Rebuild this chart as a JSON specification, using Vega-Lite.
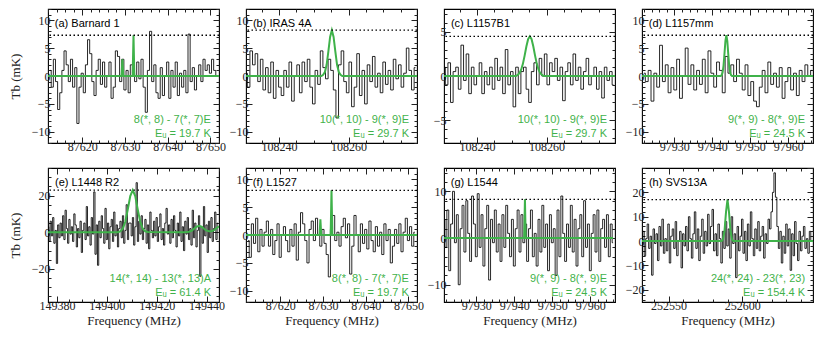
{
"$schema":"https://vega.github.io/schema/vega-lite/v6.json",
"background":"white",
"padding":{"left":8,"top":7,"right":12,"bottom":4},
"bounds":"flush",
"columns":4,
"spacing":{"row":25,"column":27},
"config":{"font":"Liberation Serif, DejaVu Serif, serif","view":{"stroke":"black","strokeWidth":1.1},
"axis":{"domain":false,"grid":false,"labelFont":"Liberation Serif, DejaVu Serif, serif","labelFontSize":12,"labelColor":"#222","tickColor":"#222","tickWidth":1,"labelPadding":4,"labelOverlap":false,"labelFlush":false,"labelBound":false,"titleFont":"Liberation Serif, DejaVu Serif, serif","titleFontSize":13,"titleFontWeight":"normal","titleColor":"#222","titlePadding":9},
"axisBottom":{"titlePadding":3}},
"datasets":{
"a":[{"f":87612.5,"t":1},{"f":87613,"t":-2},{"f":87613.5,"t":3},{"f":87614,"t":-1},{"f":87614.5,"t":-6},{"f":87615,"t":-3},{"f":87615.5,"t":1},{"f":87616,"t":4.5},{"f":87616.5,"t":2},{"f":87617,"t":-1},
{"f":87617.5,"t":3},{"f":87618,"t":-2},{"f":87618.5,"t":1.5},{"f":87619,"t":-8.5},{"f":87619.5,"t":-2},{"f":87620,"t":0.5},{"f":87620.5,"t":-3},{"f":87621,"t":2},{"f":87621.5,"t":6.5},{"f":87622,"t":4},
{"f":87622.5,"t":-1},{"f":87623,"t":-3.5},{"f":87623.5,"t":1},{"f":87624,"t":3},{"f":87624.5,"t":-1.5},{"f":87625,"t":2.5},{"f":87625.5,"t":-2},{"f":87626,"t":0},{"f":87626.5,"t":2.5},{"f":87627,"t":-4},
{"f":87627.5,"t":-2},{"f":87628,"t":4.5},{"f":87628.5,"t":3.5},{"f":87629,"t":-1},{"f":87629.5,"t":3},{"f":87630,"t":-2.5},{"f":87630.5,"t":1},{"f":87631,"t":-3},{"f":87631.5,"t":2},{"f":87632,"t":0.5},
{"f":87632.5,"t":-1},{"f":87633,"t":2.5},{"f":87633.5,"t":-0.5},{"f":87634,"t":3},{"f":87634.5,"t":-2},{"f":87635,"t":-6.5},{"f":87635.5,"t":1},{"f":87636,"t":8},{"f":87636.5,"t":-1},{"f":87637,"t":2},
{"f":87637.5,"t":-3},{"f":87638,"t":-4},{"f":87638.5,"t":1.5},{"f":87639,"t":-3.5},{"f":87639.5,"t":0},{"f":87640,"t":2.5},{"f":87640.5,"t":-4},{"f":87641,"t":1},{"f":87641.5,"t":-2},{"f":87642,"t":2.5},
{"f":87642.5,"t":-3.5},{"f":87643,"t":0.5},{"f":87643.5,"t":-2},{"f":87644,"t":1},{"f":87644.5,"t":-3},{"f":87645,"t":7.5},{"f":87645.5,"t":-1},{"f":87646,"t":1.5},{"f":87646.5,"t":-2.5},{"f":87647,"t":0},
{"f":87647.5,"t":2},{"f":87648,"t":-1},{"f":87648.5,"t":3},{"f":87649,"t":1},{"f":87649.5,"t":2},{"f":87650,"t":0.5},{"f":87650.5,"t":3},{"f":87651,"t":1},{"f":87651.5,"t":0}],
"ma":[{"f":87612,"t":0},{"f":87629.2,"t":0},{"f":87629.4,"t":3},{"f":87629.6,"t":0},{"f":87631.8,"t":0},{"f":87632,"t":7.3},{"f":87632.2,"t":0},{"f":87652,"t":0}],
"b":[{"f":108230.5,"t":0.5},{"f":108231.25,"t":-2},{"f":108232,"t":4.5},{"f":108232.75,"t":2},{"f":108233.5,"t":4},{"f":108234.25,"t":-1},{"f":108235,"t":3},{"f":108235.75,"t":-2.5},{"f":108236.5,"t":1.5},{"f":108237.25,"t":-3},
{"f":108238,"t":2.5},{"f":108238.75,"t":-4},{"f":108239.5,"t":1},{"f":108240.25,"t":-2},{"f":108241,"t":-3.5},{"f":108241.75,"t":1},{"f":108242.5,"t":-2},{"f":108243.25,"t":2.5},{"f":108244,"t":-4.5},{"f":108244.75,"t":0},
{"f":108245.5,"t":2},{"f":108246.25,"t":-3},{"f":108247,"t":2.5},{"f":108247.75,"t":-1},{"f":108248.5,"t":3},{"f":108249.25,"t":-2},{"f":108250,"t":-5},{"f":108250.75,"t":1},{"f":108251.5,"t":-1.5},{"f":108252.25,"t":4.5},
{"f":108253,"t":1.5},{"f":108253.75,"t":-0.5},{"f":108254.5,"t":3},{"f":108255.25,"t":1},{"f":108256,"t":-2.5},{"f":108256.75,"t":-7.5},{"f":108257.5,"t":2},{"f":108258.25,"t":4.5},{"f":108259,"t":-1},{"f":108259.75,"t":-3},
{"f":108260.5,"t":2.5},{"f":108261.25,"t":-5.5},{"f":108262,"t":-2},{"f":108262.75,"t":4},{"f":108263.5,"t":-3.5},{"f":108264.25,"t":1},{"f":108265,"t":-5},{"f":108265.75,"t":2},{"f":108266.5,"t":-1},{"f":108267.25,"t":3.5},
{"f":108268,"t":-2},{"f":108268.75,"t":0.5},{"f":108269.5,"t":-3},{"f":108270.25,"t":2.5},{"f":108271,"t":-1.5},{"f":108271.75,"t":1},{"f":108272.5,"t":-2.5},{"f":108273.25,"t":3},{"f":108274,"t":-0.5},{"f":108274.75,"t":2},
{"f":108275.5,"t":-2},{"f":108276.25,"t":0.5},{"f":108277,"t":5},{"f":108277.75,"t":1},{"f":108278.5,"t":-2.5},{"f":108279.25,"t":1.5}],
"mb":[{"f":108230.5,"t":0},{"f":108252.2,"t":0},{"f":108252.7,"t":0.2},{"f":108253.2,"t":0.7},{"f":108253.7,"t":2},{"f":108254.2,"t":4.4},{"f":108254.7,"t":7},{"f":108255.2,"t":8.2},{"f":108255.7,"t":7},{"f":108256.2,"t":4.4},{"f":108256.7,"t":2},{"f":108257.2,"t":0.7},{"f":108257.7,"t":0.2},{"f":108258.2,"t":0},{"f":108279.7,"t":0}],
"c":[{"f":108230.5,"t":1},{"f":108231.25,"t":-1},{"f":108232,"t":1.5},{"f":108232.75,"t":-3},{"f":108233.5,"t":0.5},{"f":108234.25,"t":1},{"f":108235,"t":-1.5},{"f":108235.75,"t":3.5},{"f":108236.5,"t":-0.5},{"f":108237.25,"t":2.5},
{"f":108238,"t":-2},{"f":108238.75,"t":1},{"f":108239.5,"t":-1},{"f":108240.25,"t":0},{"f":108241,"t":1.5},{"f":108241.75,"t":-2},{"f":108242.5,"t":0.5},{"f":108243.25,"t":-1},{"f":108244,"t":1},{"f":108244.75,"t":-1.5},
{"f":108245.5,"t":2},{"f":108246.25,"t":-0.5},{"f":108247,"t":1},{"f":108247.75,"t":-2},{"f":108248.5,"t":3},{"f":108249.25,"t":-1},{"f":108250,"t":0.5},{"f":108250.75,"t":-3.5},{"f":108251.5,"t":1},{"f":108252.25,"t":-2},
{"f":108253,"t":0.5},{"f":108253.75,"t":1},{"f":108254.5,"t":-1.5},{"f":108255.25,"t":-3},{"f":108256,"t":0.5},{"f":108256.75,"t":1.5},{"f":108257.5,"t":-1},{"f":108258.25,"t":2},{"f":108259,"t":0},{"f":108259.75,"t":2.5},
{"f":108260.5,"t":-1},{"f":108261.25,"t":1.5},{"f":108262,"t":0.5},{"f":108262.75,"t":2},{"f":108263.5,"t":-0.5},{"f":108264.25,"t":1},{"f":108265,"t":-2.8},{"f":108265.75,"t":0.5},{"f":108266.5,"t":1.5},{"f":108267.25,"t":-1},
{"f":108268,"t":2.5},{"f":108268.75,"t":-0.5},{"f":108269.5,"t":1},{"f":108270.25,"t":-1.5},{"f":108271,"t":0.5},{"f":108271.75,"t":2},{"f":108272.5,"t":-1},{"f":108273.25,"t":0},{"f":108274,"t":1},{"f":108274.75,"t":-1.5},
{"f":108275.5,"t":0.5},{"f":108276.25,"t":-2.5},{"f":108277,"t":1},{"f":108277.75,"t":-0.5},{"f":108278.5,"t":0.5},{"f":108279.25,"t":-1}],
"mc":[{"f":108230.5,"t":0},{"f":108251.2,"t":0},{"f":108251.7,"t":0.12},{"f":108252.2,"t":0.31},{"f":108252.7,"t":0.71},{"f":108253.2,"t":1.38},{"f":108253.7,"t":2.31},{"f":108254.2,"t":3.35},{"f":108254.7,"t":4.18},{"f":108255.2,"t":4.5},{"f":108255.7,"t":4.18},{"f":108256.2,"t":3.35},{"f":108256.7,"t":2.31},{"f":108257.2,"t":1.38},{"f":108257.7,"t":0.71},{"f":108258.2,"t":0.31},{"f":108258.7,"t":0.12},{"f":108259.2,"t":0},{"f":108279.7,"t":0}],
"d":[{"f":97922,"t":0.5},{"f":97922.75,"t":-1},{"f":97923.5,"t":1},{"f":97924.25,"t":-4.5},{"f":97925,"t":0.5},{"f":97925.75,"t":-2},{"f":97926.5,"t":5.5},{"f":97927.25,"t":-1},{"f":97928,"t":2},{"f":97928.75,"t":-3},
{"f":97929.5,"t":1.5},{"f":97930.25,"t":-2.5},{"f":97931,"t":3},{"f":97931.75,"t":-4},{"f":97932.5,"t":0},{"f":97933.25,"t":5},{"f":97934,"t":-1.5},{"f":97934.75,"t":2},{"f":97935.5,"t":-2.5},{"f":97936.25,"t":1},
{"f":97937,"t":-1.5},{"f":97937.75,"t":3},{"f":97938.5,"t":-3},{"f":97939.25,"t":4.5},{"f":97940,"t":0.5},{"f":97940.75,"t":-2},{"f":97941.5,"t":2.5},{"f":97942.25,"t":1},{"f":97943,"t":-3},{"f":97943.75,"t":3.5},
{"f":97944.5,"t":0.5},{"f":97945.25,"t":2},{"f":97946,"t":-1},{"f":97946.75,"t":3},{"f":97947.5,"t":0.5},{"f":97948.25,"t":-2.5},{"f":97949,"t":2},{"f":97949.75,"t":-3.5},{"f":97950.5,"t":-1},{"f":97951.25,"t":-4.5},
{"f":97952,"t":-5.5},{"f":97952.75,"t":-2},{"f":97953.5,"t":1},{"f":97954.25,"t":-3},{"f":97955,"t":2.5},{"f":97955.75,"t":-1.5},{"f":97956.5,"t":0.5},{"f":97957.25,"t":-2},{"f":97958,"t":1.5},{"f":97958.75,"t":-4},
{"f":97959.5,"t":-1},{"f":97960.25,"t":1.5},{"f":97961,"t":-2.5},{"f":97961.75,"t":0.5},{"f":97962.5,"t":-3.5},{"f":97963.25,"t":1},{"f":97964,"t":-1},{"f":97964.75,"t":2},{"f":97965.5,"t":0},{"f":97966.25,"t":1}],
"md":[{"f":97921.5,"t":0},{"f":97942.2,"t":0},{"f":97942.45,"t":0.15},{"f":97942.7,"t":0.62},{"f":97942.95,"t":1.82},{"f":97943.2,"t":3.94},{"f":97943.45,"t":6.26},{"f":97943.7,"t":7.3},{"f":97943.95,"t":6.26},{"f":97944.2,"t":3.94},{"f":97944.45,"t":1.82},{"f":97944.7,"t":0.62},{"f":97944.95,"t":0.15},{"f":97945.2,"t":0},{"f":97966.5,"t":0}],
"e":[{"f":149376.5,"t":3},{"f":149377,"t":-5},{"f":149377.5,"t":6},{"f":149378,"t":-2},{"f":149378.5,"t":8},{"f":149379,"t":-6},{"f":149379.5,"t":1},{"f":149380,"t":-17},{"f":149380.5,"t":4},{"f":149381,"t":-3},
{"f":149381.5,"t":5},{"f":149382,"t":-2},{"f":149382.5,"t":9},{"f":149383,"t":-4},{"f":149383.5,"t":12},{"f":149384,"t":2},{"f":149384.5,"t":-6},{"f":149385,"t":7},{"f":149385.5,"t":-1},{"f":149386,"t":3},
{"f":149386.5,"t":-5},{"f":149387,"t":10},{"f":149387.5,"t":4},{"f":149388,"t":-8},{"f":149388.5,"t":2},{"f":149389,"t":-3},{"f":149389.5,"t":6},{"f":149390,"t":-11},{"f":149390.5,"t":1},{"f":149391,"t":5},
{"f":149391.5,"t":-4},{"f":149392,"t":14},{"f":149392.5,"t":-2},{"f":149393,"t":3},{"f":149393.5,"t":-7},{"f":149394,"t":8},{"f":149394.5,"t":-1},{"f":149395,"t":22},{"f":149395.5,"t":-12},{"f":149396,"t":4},
{"f":149396.5,"t":-18},{"f":149397,"t":6},{"f":149397.5,"t":-3},{"f":149398,"t":9},{"f":149398.5,"t":2},{"f":149399,"t":-6},{"f":149399.5,"t":13},{"f":149400,"t":-4},{"f":149400.5,"t":5},{"f":149401,"t":-9},
{"f":149401.5,"t":3},{"f":149402,"t":7},{"f":149402.5,"t":-5},{"f":149403,"t":11},{"f":149403.5,"t":-2},{"f":149404,"t":4},{"f":149404.5,"t":-8},{"f":149405,"t":2},{"f":149405.5,"t":6},{"f":149406,"t":-3},
{"f":149406.5,"t":9},{"f":149407,"t":-6},{"f":149407.5,"t":1},{"f":149408,"t":15},{"f":149408.5,"t":-4},{"f":149409,"t":5},{"f":149409.5,"t":5},{"f":149410,"t":-2},{"f":149410.5,"t":8},{"f":149411,"t":-7},
{"f":149411.5,"t":3},{"f":149412,"t":27},{"f":149412.5,"t":-5},{"f":149413,"t":6},{"f":149413.5,"t":-1},{"f":149414,"t":9},{"f":149414.5,"t":-4},{"f":149415,"t":2},{"f":149415.5,"t":7},{"f":149416,"t":-6},
{"f":149416.5,"t":4},{"f":149417,"t":-9},{"f":149417.5,"t":11},{"f":149418,"t":1},{"f":149418.5,"t":-3},{"f":149419,"t":6},{"f":149419.5,"t":-2},{"f":149420,"t":8},{"f":149420.5,"t":-5},{"f":149421,"t":3},
{"f":149421.5,"t":10},{"f":149422,"t":-4},{"f":149422.5,"t":2},{"f":149423,"t":-7},{"f":149423.5,"t":5},{"f":149424,"t":13},{"f":149424.5,"t":-1},{"f":149425,"t":4},{"f":149425.5,"t":-6},{"f":149426,"t":7},
{"f":149426.5,"t":-3},{"f":149427,"t":9},{"f":149427.5,"t":1},{"f":149428,"t":-8},{"f":149428.5,"t":5},{"f":149429,"t":-2},{"f":149429.5,"t":11},{"f":149430,"t":-5},{"f":149430.5,"t":3},{"f":149431,"t":-10},
{"f":149431.5,"t":6},{"f":149432,"t":-1},{"f":149432.5,"t":8},{"f":149433,"t":-4},{"f":149433.5,"t":2},{"f":149434,"t":-7},{"f":149434.5,"t":12},{"f":149435,"t":-3},{"f":149435.5,"t":5},{"f":149436,"t":-8},
{"f":149436.5,"t":1},{"f":149437,"t":9},{"f":149437.5,"t":-24},{"f":149438,"t":3},{"f":149438.5,"t":-6},{"f":149439,"t":14},{"f":149439.5,"t":-2},{"f":149440,"t":4},{"f":149440.5,"t":-11},{"f":149441,"t":6},
{"f":149441.5,"t":-3},{"f":149442,"t":8},{"f":149442.5,"t":-5},{"f":149443,"t":2},{"f":149443.5,"t":11},{"f":149444,"t":-4},{"f":149444.5,"t":5}],
"me":[{"f":149376.4,"t":0},{"f":149404.4,"t":0},{"f":149405.4,"t":0.5},{"f":149406.4,"t":1.95},{"f":149407.4,"t":5.7},{"f":149408.4,"t":12.4},{"f":149409.4,"t":19.7},{"f":149410.4,"t":23},{"f":149411.4,"t":19.7},{"f":149412.4,"t":12.4},{"f":149413.4,"t":5.7},{"f":149414.4,"t":1.95},{"f":149415.4,"t":0.5},{"f":149416.4,"t":0.1},{"f":149431,"t":0},{"f":149432,"t":0.1},{"f":149433,"t":0.3},{"f":149434,"t":0.8},{"f":149435,"t":1.9},{"f":149436,"t":3},{"f":149437,"t":3.5},{"f":149438,"t":3},{"f":149439,"t":1.9},{"f":149440,"t":0.9},{"f":149441,"t":0.5},{"f":149442,"t":0.6},{"f":149443,"t":1.1},{"f":149444,"t":2.2},{"f":149445,"t":3.3}],
"f":[{"f":87612.5,"t":-1},{"f":87613,"t":-4},{"f":87613.5,"t":2},{"f":87614,"t":-1.5},{"f":87614.5,"t":3},{"f":87615,"t":-3},{"f":87615.5,"t":1},{"f":87616,"t":-2},{"f":87616.5,"t":0.5},{"f":87617,"t":2.5},
{"f":87617.5,"t":-2},{"f":87618,"t":1},{"f":87618.5,"t":-3.5},{"f":87619,"t":-1},{"f":87619.5,"t":2},{"f":87620,"t":-4},{"f":87620.5,"t":0},{"f":87621,"t":1.5},{"f":87621.5,"t":-1},{"f":87622,"t":-3},
{"f":87622.5,"t":1},{"f":87623,"t":-2},{"f":87623.5,"t":2},{"f":87624,"t":-4.5},{"f":87624.5,"t":0.5},{"f":87625,"t":4},{"f":87625.5,"t":2},{"f":87626,"t":-1},{"f":87626.5,"t":-5},{"f":87627,"t":1},
{"f":87627.5,"t":2.5},{"f":87628,"t":-1},{"f":87628.5,"t":3},{"f":87629,"t":0},{"f":87629.5,"t":-2},{"f":87630,"t":1},{"f":87630.5,"t":-1.5},{"f":87631,"t":-3.5},{"f":87631.5,"t":-7.5},{"f":87632,"t":1},
{"f":87632.5,"t":3.5},{"f":87633,"t":-1},{"f":87633.5,"t":0.5},{"f":87634,"t":-2},{"f":87634.5,"t":1.5},{"f":87635,"t":3},{"f":87635.5,"t":-0.5},{"f":87636,"t":2},{"f":87636.5,"t":-7},{"f":87637,"t":-2},
{"f":87637.5,"t":3.5},{"f":87638,"t":0},{"f":87638.5,"t":-3},{"f":87639,"t":2},{"f":87639.5,"t":-1.5},{"f":87640,"t":1},{"f":87640.5,"t":-2.5},{"f":87641,"t":2.5},{"f":87641.5,"t":-1},{"f":87642,"t":-3},
{"f":87642.5,"t":1.5},{"f":87643,"t":-2},{"f":87643.5,"t":0.5},{"f":87644,"t":-3.5},{"f":87644.5,"t":2},{"f":87645,"t":-1},{"f":87645.5,"t":1},{"f":87646,"t":-5},{"f":87646.5,"t":-2},{"f":87647,"t":1},
{"f":87647.5,"t":-1.5},{"f":87648,"t":2},{"f":87648.5,"t":-3},{"f":87649,"t":0.5},{"f":87649.5,"t":3},{"f":87650,"t":-1},{"f":87650.5,"t":1.5},{"f":87651,"t":-2},{"f":87651.5,"t":0.5}],
"mf":[{"f":87612,"t":0},{"f":87629.2,"t":0},{"f":87629.4,"t":2.8},{"f":87629.6,"t":0},{"f":87631.8,"t":0},{"f":87632,"t":8},{"f":87632.2,"t":0},{"f":87652,"t":0}],
"g":[{"f":97921.5,"t":4},{"f":97922,"t":-2},{"f":97922.5,"t":6},{"f":97923,"t":-7},{"f":97923.5,"t":3},{"f":97924,"t":10},{"f":97924.5,"t":-1},{"f":97925,"t":5},{"f":97925.5,"t":-10},{"f":97926,"t":2},
{"f":97926.5,"t":7},{"f":97927,"t":-3},{"f":97927.5,"t":8},{"f":97928,"t":1},{"f":97928.5,"t":-5},{"f":97929,"t":9},{"f":97929.5,"t":3},{"f":97930,"t":-4},{"f":97930.5,"t":9.5},{"f":97931,"t":-2},
{"f":97931.5,"t":5},{"f":97932,"t":-6},{"f":97932.5,"t":2},{"f":97933,"t":7},{"f":97933.5,"t":-9},{"f":97934,"t":4},{"f":97934.5,"t":-1},{"f":97935,"t":6},{"f":97935.5,"t":-3},{"f":97936,"t":3},
{"f":97936.5,"t":-5},{"f":97937,"t":5},{"f":97937.5,"t":-2},{"f":97938,"t":7},{"f":97938.5,"t":1},{"f":97939,"t":-4},{"f":97939.5,"t":4},{"f":97940,"t":-6},{"f":97940.5,"t":2},{"f":97941,"t":6},
{"f":97941.5,"t":-3},{"f":97942,"t":5},{"f":97942.5,"t":-1},{"f":97943,"t":3},{"f":97943.5,"t":-5},{"f":97944,"t":2},{"f":97944.5,"t":6},{"f":97945,"t":-4},{"f":97945.5,"t":1},{"f":97946,"t":-6},
{"f":97946.5,"t":4},{"f":97947,"t":-3},{"f":97947.5,"t":7},{"f":97948,"t":-2},{"f":97948.5,"t":3},{"f":97949,"t":-7},{"f":97949.5,"t":5},{"f":97950,"t":-1},{"f":97950.5,"t":2},{"f":97951,"t":-8},
{"f":97951.5,"t":6},{"f":97952,"t":-4},{"f":97952.5,"t":9},{"f":97953,"t":1},{"f":97953.5,"t":-5},{"f":97954,"t":3},{"f":97954.5,"t":-2},{"f":97955,"t":7},{"f":97955.5,"t":-3},{"f":97956,"t":4},
{"f":97956.5,"t":-6},{"f":97957,"t":2},{"f":97957.5,"t":5},{"f":97958,"t":-4},{"f":97958.5,"t":8},{"f":97959,"t":-2},{"f":97959.5,"t":3},{"f":97960,"t":-7},{"f":97960.5,"t":1},{"f":97961,"t":5},
{"f":97961.5,"t":-3},{"f":97962,"t":6},{"f":97962.5,"t":-5},{"f":97963,"t":2},{"f":97963.5,"t":4},{"f":97964,"t":-2},{"f":97964.5,"t":5},{"f":97965,"t":-4},{"f":97965.5,"t":3},{"f":97966,"t":-1}],
"mg":[{"f":97921.5,"t":0},{"f":97942.6,"t":0},{"f":97942.8,"t":8.3},{"f":97943,"t":0},{"f":97966,"t":0}],
"h":[{"f":252532,"t":-2},{"f":252533,"t":4},{"f":252534,"t":-6},{"f":252535,"t":1},{"f":252536,"t":7},{"f":252537,"t":-3},{"f":252538,"t":2},{"f":252539,"t":-14},{"f":252540,"t":5},{"f":252541,"t":-1},
{"f":252542,"t":3},{"f":252543,"t":-8},{"f":252544,"t":6},{"f":252545,"t":-2},{"f":252546,"t":9},{"f":252547,"t":-5},{"f":252548,"t":1},{"f":252549,"t":-4},{"f":252550,"t":7},{"f":252551,"t":-9},
{"f":252552,"t":2},{"f":252553,"t":5},{"f":252554,"t":-3},{"f":252555,"t":8},{"f":252556,"t":-6},{"f":252557,"t":0},{"f":252558,"t":4},{"f":252559,"t":-11},{"f":252560,"t":3},{"f":252561,"t":-2},
{"f":252562,"t":6},{"f":252563,"t":-4},{"f":252564,"t":10},{"f":252565,"t":1},{"f":252566,"t":-7},{"f":252567,"t":3},{"f":252568,"t":12},{"f":252569,"t":-3},{"f":252570,"t":5},{"f":252571,"t":-8},
{"f":252572,"t":2},{"f":252573,"t":9},{"f":252574,"t":-5},{"f":252575,"t":4},{"f":252576,"t":-2},{"f":252577,"t":11},{"f":252578,"t":-1},{"f":252579,"t":6},{"f":252580,"t":13},{"f":252581,"t":-4},
{"f":252582,"t":3},{"f":252583,"t":-6},{"f":252584,"t":7},{"f":252585,"t":1},{"f":252586,"t":-9},{"f":252587,"t":4},{"f":252588,"t":-3},{"f":252589,"t":8},{"f":252590,"t":-2},{"f":252591,"t":5},
{"f":252592,"t":-7},{"f":252593,"t":10},{"f":252594,"t":-1},{"f":252595,"t":3},{"f":252596,"t":-15},{"f":252597,"t":6},{"f":252598,"t":-4},{"f":252599,"t":2},{"f":252600,"t":9},{"f":252601,"t":-5},
{"f":252602,"t":4},{"f":252603,"t":-8},{"f":252604,"t":7},{"f":252605,"t":-2},{"f":252606,"t":12},{"f":252607,"t":1},{"f":252608,"t":-6},{"f":252609,"t":5},{"f":252610,"t":-3},{"f":252611,"t":8},
{"f":252612,"t":-4},{"f":252613,"t":2},{"f":252614,"t":6},{"f":252615,"t":-7},{"f":252616,"t":3},{"f":252617,"t":-1},{"f":252618,"t":9},{"f":252619,"t":5},{"f":252620,"t":12},{"f":252621,"t":20},
{"f":252622,"t":28},{"f":252623,"t":18},{"f":252624,"t":6},{"f":252625,"t":-3},{"f":252626,"t":4},{"f":252627,"t":-9},{"f":252628,"t":2},{"f":252629,"t":-5},{"f":252630,"t":7},{"f":252631,"t":-2},
{"f":252632,"t":5},{"f":252633,"t":-12},{"f":252634,"t":3},{"f":252635,"t":-6},{"f":252636,"t":8},{"f":252637,"t":-1},{"f":252638,"t":-8},{"f":252639,"t":4},{"f":252640,"t":-4},{"f":252641,"t":2},
{"f":252642,"t":6},{"f":252643,"t":-3},{"f":252644,"t":1},{"f":252645,"t":-5},{"f":252646,"t":4},{"f":252647,"t":0}],
"mh":[{"f":252532,"t":0},{"f":252586,"t":0},{"f":252587,"t":0.75},{"f":252588,"t":4.3},{"f":252589,"t":12},{"f":252590,"t":17},{"f":252591,"t":12},{"f":252592,"t":4.3},{"f":252593,"t":0.75},{"f":252594,"t":0},{"f":252648,"t":0}]
},
"concat":[
{"width":171,"height":134,"resolve":{"axis":{"x":"independent","y":"independent"}},
"layer":[
{"data":{"name":"a"},"mark":{"type":"line","interpolate":"step","color":"#000","strokeWidth":0.85,"clip":true},
"encoding":{"x":{"field":"f","type":"quantitative","scale":{"domain":[87612,87652],"nice":false,"zero":false},"axis":{"orient":"bottom","title":null,"format":"d","values":[87620,87630,87640,87650],"tickSize":-6}},
"y":{"field":"t","type":"quantitative","scale":{"domain":[-12,12],"nice":false,"zero":false},"axis":{"orient":"left","title":"Tb (mK)","format":"d","values":[-10,-5,0,5,10],"tickSize":-6}}}},
{"data":{"name":"ma"},"mark":{"type":"line","color":"#3fb24a","strokeWidth":2,"clip":true},
"encoding":{"x":{"field":"f","type":"quantitative","axis":{"orient":"top","title":null,"labels":false,"values":[87612,87614,87616,87618,87620,87622,87624,87626,87628,87630,87632,87634,87636,87638,87640,87642,87644,87646,87648,87650,87652],"tickSize":{"condition":{"test":"datum.value % 10 === 0","value":-6},"value":-3}}},
"y":{"field":"t","type":"quantitative","axis":{"orient":"right","title":null,"labels":false,"values":[-12,-11,-10,-9,-8,-7,-6,-5,-4,-3,-2,-1,0,1,2,3,4,5,6,7,8,9,10,11,12],"tickSize":{"condition":{"test":"datum.value % 5 === 0","value":-6},"value":-3}}}}},
{"data":{"name":"ma"},"mark":{"type":"point","opacity":0},
"encoding":{"x":{"field":"f","type":"quantitative","axis":{"orient":"bottom","title":null,"labels":false,"values":[87612,87614,87616,87618,87620,87622,87624,87626,87628,87630,87632,87634,87636,87638,87640,87642,87644,87646,87648,87650,87652],"tickSize":-3}},
"y":{"field":"t","type":"quantitative","axis":{"orient":"left","title":null,"labels":false,"values":[-12,-11,-10,-9,-8,-7,-6,-5,-4,-3,-2,-1,0,1,2,3,4,5,6,7,8,9,10,11,12],"tickSize":-3}}}},
{"data":{"values":[{}]},"mark":{"type":"rule","color":"black","strokeWidth":1.3,"strokeDash":[1.5,2.5]},"encoding":{"y":{"datum":7.3,"type":"quantitative","axis":null}}},
{"data":{"values":[{}]},"mark":{"type":"text","align":"left","baseline":"middle","font":"Liberation Sans","fontSize":11,"color":"black"},"encoding":{"x":{"datum":87613.6,"type":"quantitative","axis":null},"y":{"datum":9.3,"type":"quantitative","axis":null},"text":{"value":"(a)  Barnard 1"}}},
{"data":{"values":[{}]},"mark":{"type":"text","align":"right","baseline":"alphabetic","font":"Liberation Sans","fontSize":11,"lineHeight":14,"color":"#3fb24a"},"encoding":{"x":{"datum":87650.1,"type":"quantitative","axis":null},"y":{"datum":-8.42,"type":"quantitative","axis":null},"text":{"value":["8(*, 8) - 7(*, 7)E","Eᵤ = 19.7 K"]}}}
]},
{"width":171,"height":134,"resolve":{"axis":{"x":"independent","y":"independent"}},
"layer":[
{"data":{"name":"b"},"mark":{"type":"line","interpolate":"step","color":"#000","strokeWidth":0.85,"clip":true},
"encoding":{"x":{"field":"f","type":"quantitative","scale":{"domain":[108230.5,108279.7],"nice":false,"zero":false},"axis":{"orient":"bottom","title":null,"format":"d","values":[108240,108260],"tickSize":-6}},
"y":{"field":"t","type":"quantitative","scale":{"domain":[-12,12],"nice":false,"zero":false},"axis":{"orient":"left","title":null,"format":"d","values":[-10,-5,0,5,10],"tickSize":-6}}}},
{"data":{"name":"mb"},"mark":{"type":"line","color":"#3fb24a","strokeWidth":2,"clip":true},
"encoding":{"x":{"field":"f","type":"quantitative","axis":{"orient":"top","title":null,"labels":false,"values":[108235,108240,108245,108250,108255,108260,108265,108270,108275],"tickSize":{"condition":{"test":"datum.value % 20 === 0","value":-6},"value":-3}}},
"y":{"field":"t","type":"quantitative","axis":{"orient":"right","title":null,"labels":false,"values":[-12,-11,-10,-9,-8,-7,-6,-5,-4,-3,-2,-1,0,1,2,3,4,5,6,7,8,9,10,11,12],"tickSize":{"condition":{"test":"datum.value % 5 === 0","value":-6},"value":-3}}}}},
{"data":{"name":"mb"},"mark":{"type":"point","opacity":0},
"encoding":{"x":{"field":"f","type":"quantitative","axis":{"orient":"bottom","title":null,"labels":false,"values":[108235,108240,108245,108250,108255,108260,108265,108270,108275],"tickSize":-3}},
"y":{"field":"t","type":"quantitative","axis":{"orient":"left","title":null,"labels":false,"values":[-12,-11,-10,-9,-8,-7,-6,-5,-4,-3,-2,-1,0,1,2,3,4,5,6,7,8,9,10,11,12],"tickSize":-3}}}},
{"data":{"values":[{}]},"mark":{"type":"rule","color":"black","strokeWidth":1.3,"strokeDash":[1.5,2.5]},"encoding":{"y":{"datum":8.2,"type":"quantitative","axis":null}}},
{"data":{"values":[{}]},"mark":{"type":"text","align":"left","baseline":"middle","font":"Liberation Sans","fontSize":11,"color":"black"},"encoding":{"x":{"datum":108232.5,"type":"quantitative","axis":null},"y":{"datum":9.3,"type":"quantitative","axis":null},"text":{"value":"(b)  IRAS 4A"}}},
{"data":{"values":[{}]},"mark":{"type":"text","align":"right","baseline":"alphabetic","font":"Liberation Sans","fontSize":11,"lineHeight":14,"color":"#3fb24a"},"encoding":{"x":{"datum":108277.4,"type":"quantitative","axis":null},"y":{"datum":-8.42,"type":"quantitative","axis":null},"text":{"value":["10(*, 10) - 9(*, 9)E","Eᵤ = 29.7 K"]}}}
]},
{"width":171,"height":134,"resolve":{"axis":{"x":"independent","y":"independent"}},
"layer":[
{"data":{"name":"c"},"mark":{"type":"line","interpolate":"step","color":"#000","strokeWidth":0.85,"clip":true},
"encoding":{"x":{"field":"f","type":"quantitative","scale":{"domain":[108230.5,108279.7],"nice":false,"zero":false},"axis":{"orient":"bottom","title":null,"format":"d","values":[108240,108260],"tickSize":-6}},
"y":{"field":"t","type":"quantitative","scale":{"domain":[-7.6,7.6],"nice":false,"zero":false},"axis":{"orient":"left","title":null,"format":"d","values":[-5,0,5],"tickSize":-6}}}},
{"data":{"name":"mc"},"mark":{"type":"line","color":"#3fb24a","strokeWidth":2,"clip":true},
"encoding":{"x":{"field":"f","type":"quantitative","axis":{"orient":"top","title":null,"labels":false,"values":[108235,108240,108245,108250,108255,108260,108265,108270,108275],"tickSize":{"condition":{"test":"datum.value % 20 === 0","value":-6},"value":-3}}},
"y":{"field":"t","type":"quantitative","axis":{"orient":"right","title":null,"labels":false,"values":[-7,-6,-5,-4,-3,-2,-1,0,1,2,3,4,5,6,7],"tickSize":{"condition":{"test":"datum.value % 5 === 0","value":-6},"value":-3}}}}},
{"data":{"name":"mc"},"mark":{"type":"point","opacity":0},
"encoding":{"x":{"field":"f","type":"quantitative","axis":{"orient":"bottom","title":null,"labels":false,"values":[108235,108240,108245,108250,108255,108260,108265,108270,108275],"tickSize":-3}},
"y":{"field":"t","type":"quantitative","axis":{"orient":"left","title":null,"labels":false,"values":[-7,-6,-5,-4,-3,-2,-1,0,1,2,3,4,5,6,7],"tickSize":-3}}}},
{"data":{"values":[{}]},"mark":{"type":"rule","color":"black","strokeWidth":1.3,"strokeDash":[1.5,2.5]},"encoding":{"y":{"datum":4.5,"type":"quantitative","axis":null}}},
{"data":{"values":[{}]},"mark":{"type":"text","align":"left","baseline":"middle","font":"Liberation Sans","fontSize":11,"color":"black"},"encoding":{"x":{"datum":108232.5,"type":"quantitative","axis":null},"y":{"datum":5.9,"type":"quantitative","axis":null},"text":{"value":"(c)  L1157B1"}}},
{"data":{"values":[{}]},"mark":{"type":"text","align":"right","baseline":"alphabetic","font":"Liberation Sans","fontSize":11,"lineHeight":14,"color":"#3fb24a"},"encoding":{"x":{"datum":108277.4,"type":"quantitative","axis":null},"y":{"datum":-5.33,"type":"quantitative","axis":null},"text":{"value":["10(*, 10) - 9(*, 9)E","Eᵤ = 29.7 K"]}}}
]},
{"width":171,"height":134,"resolve":{"axis":{"x":"independent","y":"independent"}},
"layer":[
{"data":{"name":"d"},"mark":{"type":"line","interpolate":"step","color":"#000","strokeWidth":0.85,"clip":true},
"encoding":{"x":{"field":"f","type":"quantitative","scale":{"domain":[97921.5,97966.5],"nice":false,"zero":false},"axis":{"orient":"bottom","title":null,"format":"d","values":[97930,97940,97950,97960],"tickSize":-6}},
"y":{"field":"t","type":"quantitative","scale":{"domain":[-12,12],"nice":false,"zero":false},"axis":{"orient":"left","title":null,"format":"d","values":[-10,-5,0,5,10],"tickSize":-6}}}},
{"data":{"name":"md"},"mark":{"type":"line","color":"#3fb24a","strokeWidth":2,"clip":true},
"encoding":{"x":{"field":"f","type":"quantitative","axis":{"orient":"top","title":null,"labels":false,"values":[97922,97924,97926,97928,97930,97932,97934,97936,97938,97940,97942,97944,97946,97948,97950,97952,97954,97956,97958,97960,97962,97964,97966],"tickSize":{"condition":{"test":"datum.value % 10 === 0","value":-6},"value":-3}}},
"y":{"field":"t","type":"quantitative","axis":{"orient":"right","title":null,"labels":false,"values":[-12,-11,-10,-9,-8,-7,-6,-5,-4,-3,-2,-1,0,1,2,3,4,5,6,7,8,9,10,11,12],"tickSize":{"condition":{"test":"datum.value % 5 === 0","value":-6},"value":-3}}}}},
{"data":{"name":"md"},"mark":{"type":"point","opacity":0},
"encoding":{"x":{"field":"f","type":"quantitative","axis":{"orient":"bottom","title":null,"labels":false,"values":[97922,97924,97926,97928,97930,97932,97934,97936,97938,97940,97942,97944,97946,97948,97950,97952,97954,97956,97958,97960,97962,97964,97966],"tickSize":-3}},
"y":{"field":"t","type":"quantitative","axis":{"orient":"left","title":null,"labels":false,"values":[-12,-11,-10,-9,-8,-7,-6,-5,-4,-3,-2,-1,0,1,2,3,4,5,6,7,8,9,10,11,12],"tickSize":-3}}}},
{"data":{"values":[{}]},"mark":{"type":"rule","color":"black","strokeWidth":1.3,"strokeDash":[1.5,2.5]},"encoding":{"y":{"datum":7.3,"type":"quantitative","axis":null}}},
{"data":{"values":[{}]},"mark":{"type":"text","align":"left","baseline":"middle","font":"Liberation Sans","fontSize":11,"color":"black"},"encoding":{"x":{"datum":97923.3,"type":"quantitative","axis":null},"y":{"datum":9.3,"type":"quantitative","axis":null},"text":{"value":"(d)  L1157mm"}}},
{"data":{"values":[{}]},"mark":{"type":"text","align":"right","baseline":"alphabetic","font":"Liberation Sans","fontSize":11,"lineHeight":14,"color":"#3fb24a"},"encoding":{"x":{"datum":97964.4,"type":"quantitative","axis":null},"y":{"datum":-8.42,"type":"quantitative","axis":null},"text":{"value":["9(*, 9) - 8(*, 9)E","Eᵤ = 24.5 K"]}}}
]},
{"width":171,"height":134,"resolve":{"axis":{"x":"independent","y":"independent"}},
"layer":[
{"data":{"name":"e"},"mark":{"type":"line","interpolate":"step","color":"#000","strokeWidth":0.85,"clip":true},
"encoding":{"x":{"field":"f","type":"quantitative","scale":{"domain":[149376.4,149445],"nice":false,"zero":false},"axis":{"orient":"bottom","title":"Frequency (MHz)","format":"d","values":[149380,149400,149420,149440],"tickSize":-6}},
"y":{"field":"t","type":"quantitative","scale":{"domain":[-38,35],"nice":false,"zero":false},"axis":{"orient":"left","title":"Tb (mK)","format":"d","values":[-20,0,20],"tickSize":-6}}}},
{"data":{"name":"me"},"mark":{"type":"line","color":"#3fb24a","strokeWidth":2,"clip":true},
"encoding":{"x":{"field":"f","type":"quantitative","axis":{"orient":"top","title":null,"labels":false,"values":[149380,149385,149390,149395,149400,149405,149410,149415,149420,149425,149430,149435,149440,149445],"tickSize":{"condition":{"test":"datum.value % 20 === 0","value":-6},"value":-3}}},
"y":{"field":"t","type":"quantitative","axis":{"orient":"right","title":null,"labels":false,"values":[-35,-30,-25,-20,-15,-10,-5,0,5,10,15,20,25,30,35],"tickSize":{"condition":{"test":"datum.value % 20 === 0","value":-6},"value":-3}}}}},
{"data":{"name":"me"},"mark":{"type":"point","opacity":0},
"encoding":{"x":{"field":"f","type":"quantitative","axis":{"orient":"bottom","title":null,"labels":false,"values":[149380,149385,149390,149395,149400,149405,149410,149415,149420,149425,149430,149435,149440,149445],"tickSize":-3}},
"y":{"field":"t","type":"quantitative","axis":{"orient":"left","title":null,"labels":false,"values":[-35,-30,-25,-20,-15,-10,-5,0,5,10,15,20,25,30,35],"tickSize":-3}}}},
{"data":{"values":[{}]},"mark":{"type":"rule","color":"black","strokeWidth":1.3,"strokeDash":[1.5,2.5]},"encoding":{"y":{"datum":23,"type":"quantitative","axis":null}}},
{"data":{"values":[{}]},"mark":{"type":"text","align":"left","baseline":"middle","font":"Liberation Sans","fontSize":11,"color":"black"},"encoding":{"x":{"datum":149379.2,"type":"quantitative","axis":null},"y":{"datum":26.8,"type":"quantitative","axis":null},"text":{"value":"(e)  L1448 R2"}}},
{"data":{"values":[{}]},"mark":{"type":"text","align":"right","baseline":"alphabetic","font":"Liberation Sans","fontSize":11,"lineHeight":14,"color":"#3fb24a"},"encoding":{"x":{"datum":149441.8,"type":"quantitative","axis":null},"y":{"datum":-27.1,"type":"quantitative","axis":null},"text":{"value":["14(*, 14) - 13(*, 13)A","Eᵤ = 61.4 K"]}}}
]},
{"width":171,"height":134,"resolve":{"axis":{"x":"independent","y":"independent"}},
"layer":[
{"data":{"name":"f"},"mark":{"type":"line","interpolate":"step","color":"#000","strokeWidth":0.85,"clip":true},
"encoding":{"x":{"field":"f","type":"quantitative","scale":{"domain":[87612,87652],"nice":false,"zero":false},"axis":{"orient":"bottom","title":"Frequency (MHz)","format":"d","values":[87620,87630,87640,87650],"tickSize":-6}},
"y":{"field":"t","type":"quantitative","scale":{"domain":[-12,12],"nice":false,"zero":false},"axis":{"orient":"left","title":null,"format":"d","values":[-10,-5,0,5,10],"tickSize":-6}}}},
{"data":{"name":"mf"},"mark":{"type":"line","color":"#3fb24a","strokeWidth":2,"clip":true},
"encoding":{"x":{"field":"f","type":"quantitative","axis":{"orient":"top","title":null,"labels":false,"values":[87612,87614,87616,87618,87620,87622,87624,87626,87628,87630,87632,87634,87636,87638,87640,87642,87644,87646,87648,87650,87652],"tickSize":{"condition":{"test":"datum.value % 10 === 0","value":-6},"value":-3}}},
"y":{"field":"t","type":"quantitative","axis":{"orient":"right","title":null,"labels":false,"values":[-12,-11,-10,-9,-8,-7,-6,-5,-4,-3,-2,-1,0,1,2,3,4,5,6,7,8,9,10,11,12],"tickSize":{"condition":{"test":"datum.value % 5 === 0","value":-6},"value":-3}}}}},
{"data":{"name":"mf"},"mark":{"type":"point","opacity":0},
"encoding":{"x":{"field":"f","type":"quantitative","axis":{"orient":"bottom","title":null,"labels":false,"values":[87612,87614,87616,87618,87620,87622,87624,87626,87628,87630,87632,87634,87636,87638,87640,87642,87644,87646,87648,87650,87652],"tickSize":-3}},
"y":{"field":"t","type":"quantitative","axis":{"orient":"left","title":null,"labels":false,"values":[-12,-11,-10,-9,-8,-7,-6,-5,-4,-3,-2,-1,0,1,2,3,4,5,6,7,8,9,10,11,12],"tickSize":-3}}}},
{"data":{"values":[{}]},"mark":{"type":"rule","color":"black","strokeWidth":1.3,"strokeDash":[1.5,2.5]},"encoding":{"y":{"datum":8,"type":"quantitative","axis":null}}},
{"data":{"values":[{}]},"mark":{"type":"text","align":"left","baseline":"middle","font":"Liberation Sans","fontSize":11,"color":"black"},"encoding":{"x":{"datum":87613.6,"type":"quantitative","axis":null},"y":{"datum":9.3,"type":"quantitative","axis":null},"text":{"value":"(f)  L1527"}}},
{"data":{"values":[{}]},"mark":{"type":"text","align":"right","baseline":"alphabetic","font":"Liberation Sans","fontSize":11,"lineHeight":14,"color":"#3fb24a"},"encoding":{"x":{"datum":87650.1,"type":"quantitative","axis":null},"y":{"datum":-8.42,"type":"quantitative","axis":null},"text":{"value":["8(*, 8) - 7(*, 7)E","Eᵤ = 19.7 K"]}}}
]},
{"width":171,"height":134,"resolve":{"axis":{"x":"independent","y":"independent"}},
"layer":[
{"data":{"name":"g"},"mark":{"type":"line","interpolate":"step","color":"#000","strokeWidth":0.85,"clip":true},
"encoding":{"x":{"field":"f","type":"quantitative","scale":{"domain":[97921.5,97966.5],"nice":false,"zero":false},"axis":{"orient":"bottom","title":"Frequency (MHz)","format":"d","values":[97930,97940,97950,97960],"tickSize":-6}},
"y":{"field":"t","type":"quantitative","scale":{"domain":[-13.7,15],"nice":false,"zero":false},"axis":{"orient":"left","title":null,"format":"d","values":[-10,0,10],"tickSize":-6}}}},
{"data":{"name":"mg"},"mark":{"type":"line","color":"#3fb24a","strokeWidth":2,"clip":true},
"encoding":{"x":{"field":"f","type":"quantitative","axis":{"orient":"top","title":null,"labels":false,"values":[97922,97924,97926,97928,97930,97932,97934,97936,97938,97940,97942,97944,97946,97948,97950,97952,97954,97956,97958,97960,97962,97964,97966],"tickSize":{"condition":{"test":"datum.value % 10 === 0","value":-6},"value":-3}}},
"y":{"field":"t","type":"quantitative","axis":{"orient":"right","title":null,"labels":false,"values":[-12,-10,-8,-6,-4,-2,0,2,4,6,8,10,12,14],"tickSize":{"condition":{"test":"datum.value % 10 === 0","value":-6},"value":-3}}}}},
{"data":{"name":"mg"},"mark":{"type":"point","opacity":0},
"encoding":{"x":{"field":"f","type":"quantitative","axis":{"orient":"bottom","title":null,"labels":false,"values":[97922,97924,97926,97928,97930,97932,97934,97936,97938,97940,97942,97944,97946,97948,97950,97952,97954,97956,97958,97960,97962,97964,97966],"tickSize":-3}},
"y":{"field":"t","type":"quantitative","axis":{"orient":"left","title":null,"labels":false,"values":[-12,-10,-8,-6,-4,-2,0,2,4,6,8,10,12,14],"tickSize":-3}}}},
{"data":{"values":[{}]},"mark":{"type":"rule","color":"black","strokeWidth":1.3,"strokeDash":[1.5,2.5]},"encoding":{"y":{"datum":8.3,"type":"quantitative","axis":null}}},
{"data":{"values":[{}]},"mark":{"type":"text","align":"left","baseline":"middle","font":"Liberation Sans","fontSize":11,"color":"black"},"encoding":{"x":{"datum":97923.3,"type":"quantitative","axis":null},"y":{"datum":11.8,"type":"quantitative","axis":null},"text":{"value":"(g)  L1544"}}},
{"data":{"values":[{}]},"mark":{"type":"text","align":"right","baseline":"alphabetic","font":"Liberation Sans","fontSize":11,"lineHeight":14,"color":"#3fb24a"},"encoding":{"x":{"datum":97964.4,"type":"quantitative","axis":null},"y":{"datum":-9.42,"type":"quantitative","axis":null},"text":{"value":["9(*, 9) - 8(*, 9)E","Eᵤ = 24.5 K"]}}}
]},
{"width":171,"height":134,"resolve":{"axis":{"x":"independent","y":"independent"}},
"layer":[
{"data":{"name":"h"},"mark":{"type":"line","interpolate":"step","color":"#000","strokeWidth":0.85,"clip":true},
"encoding":{"x":{"field":"f","type":"quantitative","scale":{"domain":[252532,252648],"nice":false,"zero":false},"axis":{"orient":"bottom","title":"Frequency (MHz)","format":"d","values":[252550,252600],"tickSize":-6}},
"y":{"field":"t","type":"quantitative","scale":{"domain":[-25,30],"nice":false,"zero":false},"axis":{"orient":"left","title":null,"format":"d","values":[-20,-10,0,10,20],"tickSize":-6}}}},
{"data":{"name":"mh"},"mark":{"type":"line","color":"#3fb24a","strokeWidth":2,"clip":true},
"encoding":{"x":{"field":"f","type":"quantitative","axis":{"orient":"top","title":null,"labels":false,"values":[252540,252550,252560,252570,252580,252590,252600,252610,252620,252630,252640],"tickSize":{"condition":{"test":"datum.value % 50 === 0","value":-6},"value":-3}}},
"y":{"field":"t","type":"quantitative","axis":{"orient":"right","title":null,"labels":false,"values":[-24,-22,-20,-18,-16,-14,-12,-10,-8,-6,-4,-2,0,2,4,6,8,10,12,14,16,18,20,22,24,26,28,30],"tickSize":{"condition":{"test":"datum.value % 10 === 0","value":-6},"value":-3}}}}},
{"data":{"name":"mh"},"mark":{"type":"point","opacity":0},
"encoding":{"x":{"field":"f","type":"quantitative","axis":{"orient":"bottom","title":null,"labels":false,"values":[252540,252550,252560,252570,252580,252590,252600,252610,252620,252630,252640],"tickSize":-3}},
"y":{"field":"t","type":"quantitative","axis":{"orient":"left","title":null,"labels":false,"values":[-24,-22,-20,-18,-16,-14,-12,-10,-8,-6,-4,-2,0,2,4,6,8,10,12,14,16,18,20,22,24,26,28,30],"tickSize":-3}}}},
{"data":{"values":[{}]},"mark":{"type":"rule","color":"black","strokeWidth":1.3,"strokeDash":[1.5,2.5]},"encoding":{"y":{"datum":17,"type":"quantitative","axis":null}}},
{"data":{"values":[{}]},"mark":{"type":"text","align":"left","baseline":"middle","font":"Liberation Sans","fontSize":11,"color":"black"},"encoding":{"x":{"datum":252536.7,"type":"quantitative","axis":null},"y":{"datum":23.8,"type":"quantitative","axis":null},"text":{"value":"(h)  SVS13A"}}},
{"data":{"values":[{}]},"mark":{"type":"text","align":"right","baseline":"alphabetic","font":"Liberation Sans","fontSize":11,"lineHeight":14,"color":"#3fb24a"},"encoding":{"x":{"datum":252642.6,"type":"quantitative","axis":null},"y":{"datum":-16.79,"type":"quantitative","axis":null},"text":{"value":["24(*, 24) - 23(*, 23)","Eᵤ = 154.4 K"]}}}
]}
]
}
